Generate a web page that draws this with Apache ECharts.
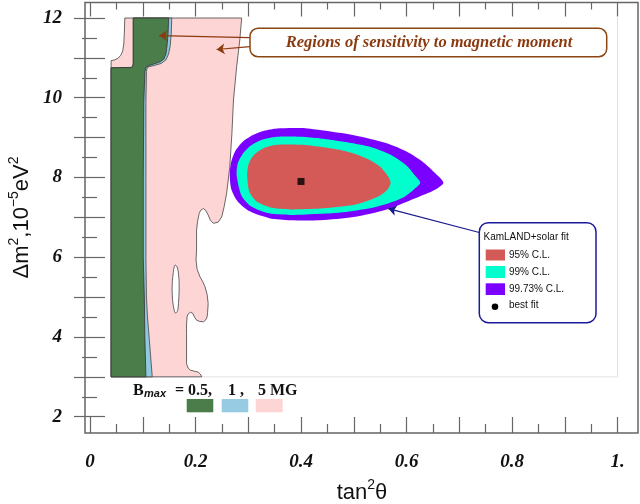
<!DOCTYPE html>
<html lang="en">
<head>
<meta charset="UTF-8">
<title>KamLAND + solar fit vs magnetic moment sensitivity</title>
<script src="https://cdn.jsdelivr.net/npm/echarts@6/dist/echarts.min.js"></script>
<style>
  html, body { margin: 0; padding: 0; background: #fff; }
  #main { width: 640px; height: 504px; }
</style>
</head>
<body>
<div id="main"></div>
<script>
// tick labels
var xLabels = [0, 0.2, 0.4, 0.6, 0.8, 1.0];
var yLabels = [2, 4, 6, 8, 10, 12];

// sensitivity regions (tan^2 theta, dm^2 in 1e-5 eV^2)
var pink5MG = [[0.04,3],[0.04,10.93],[0.047,10.95],[0.053,10.99],[0.058,11.06],[0.062,11.17],
  [0.064,11.35],[0.065,11.6],[0.066,12],
  [0.2875,12],[0.284,11.45],[0.278,10.78],[0.272,9.94],[0.269,9.1],[0.265,8.27],[0.259,7.6],
  [0.254,7.25],[0.2497,7.01],[0.243,6.88],[0.234,6.85],[0.228,6.93],[0.224,7.06],[0.219,7.18],
  [0.215,7.22],[0.21,7.18],[0.207,7.1],[0.204,6.9],[0.202,6.68],[0.202,6.18],
  [0.201,5.93],[0.203,5.7],[0.2085,5.51],[0.214,5.38],[0.218,5.26],[0.222,5.07],[0.224,4.84],
  [0.223,4.62],[0.222,4.5],[0.219,4.42],[0.215,4.38],[0.208,4.39],[0.202,4.42],[0.198,4.5],
  [0.195,4.59],[0.191,4.62],[0.188,4.6],[0.185,4.55],[0.184,4.5],[0.183,4.3],[0.183,4.09],
  [0.183,3.33],[0.186,3.22],[0.19,3.17],[0.198,3.14],[0.205,3.12],[0.209,3.07],[0.212,3]];
var pinkHole = [[0.161,5.8],[0.158,5.62],[0.156,5.35],[0.156,5.05],[0.158,4.78],[0.162,4.6],
  [0.166,4.66],[0.168,4.9],[0.169,5.25],[0.168,5.55],[0.165,5.76]];
var blue1MG = [[0.04,3],[0.04,10.75],[0.078,10.76],[0.081,10.79],[0.082,10.86],[0.082,12],
  [0.155,12],[0.154,11.6],[0.152,11.3],[0.149,11.1],[0.144,10.95],[0.135,10.86],[0.122,10.81],
  [0.112,10.78],[0.108,10.74],[0.107,10.66],[0.106,9.9],[0.106,8],[0.106,6],[0.107,5],
  [0.109,4.5],[0.112,4.0],[0.115,3.5],[0.118,3]];
var green05MG = [[0.04,3],[0.04,10.75],[0.078,10.76],[0.081,10.79],[0.082,10.86],[0.082,12],
  [0.149,12],[0.148,11.6],[0.146,11.3],[0.144,11.1],[0.14,10.97],[0.133,10.9],[0.122,10.85],
  [0.112,10.81],[0.106,10.76],[0.104,10.65],[0.102,9.9],[0.101,8],[0.101,6],[0.103,5],
  [0.104,4],[0.106,3]];

// KamLAND + solar fit contours
var cl9973 = [[0.265,8.05],[0.267,8.35],[0.275,8.65],[0.29,8.9],[0.31,9.07],[0.33,9.17],[0.354,9.23],
  [0.4,9.24],[0.436,9.19],[0.5,9.06],[0.5625,8.86],[0.6,8.65],[0.63,8.4],[0.655,8.1],[0.67,7.87],
  [0.655,7.7],[0.626,7.53],[0.5625,7.2],[0.4995,7.01],[0.436,6.93],[0.38,6.93],[0.34,6.98],
  [0.303,7.15],[0.28,7.4],[0.268,7.7]];
var cl99 = [[0.278,8.05],[0.28,8.35],[0.29,8.6],[0.305,8.8],[0.325,8.94],[0.354,9.02],[0.4,9.02],
  [0.436,8.98],[0.49,8.88],[0.531,8.77],[0.57,8.57],[0.6,8.3],[0.616,8.05],[0.626,7.87],
  [0.614,7.7],[0.594,7.5],[0.56,7.33],[0.531,7.23],[0.48,7.13],[0.436,7.09],[0.38,7.06],
  [0.34,7.1],[0.305,7.28],[0.287,7.55]];
var cl95 = [[0.298,8.05],[0.301,8.35],[0.312,8.58],[0.33,8.74],[0.354,8.82],[0.4,8.82],[0.436,8.77],
  [0.47,8.7],[0.5,8.6],[0.53,8.44],[0.55,8.27],[0.564,8.05],[0.57,7.87],[0.564,7.7],[0.55,7.55],
  [0.525,7.41],[0.499,7.31],[0.436,7.22],[0.38,7.2],[0.345,7.24],[0.316,7.4],[0.302,7.65]];
var bestFit = [[0.4, 7.9]];

// faint plot-region border and annotation arrows
var plotBox = [[0.04,3],[1,3],[1,12]];
var brownArrows = [[[0.303,11.51],[0.131,11.56]], [[0.303,11.28],[0.240,11.21]]];
var navyArrow = [[0.738,6.62],[0.5655,7.22]];

var chart = echarts.init(document.getElementById('main'));

function polySeries(pts, fill, stroke, smooth, z) {
  return {
    type: 'custom',
    coordinateSystem: 'cartesian2d',
    z: z,
    silent: true,
    data: pts,
    renderItem: function (params, api) {
      if (params.dataIndex !== 0) return;
      var p = pts.map(function (d) { return api.coord(d); });
      return {
        type: 'polygon',
        shape: { points: p, smooth: smooth },
        style: { fill: fill, stroke: stroke, lineWidth: stroke ? 0.8 : 0 }
      };
    }
  };
}

function onList(list, v) {
  return list.some(function (t) { return Math.abs(t - v) < 1e-6; });
}

var tickFont = { fontFamily: 'Liberation Serif', fontWeight: 'bold', fontStyle: 'italic', fontSize: 19, color: '#111' };
var tickLine = { color: '#666', width: 1.2 };
var nameRich = {
  n: { fontSize: 22, fontFamily: 'Liberation Sans', fill: '#111', lineHeight: 26, verticalAlign: 'bottom' },
  s: { fontSize: 14, fontFamily: 'Liberation Sans', fill: '#111', lineHeight: 26, verticalAlign: 'top' }
};

var option = {
  animation: false,
  backgroundColor: '#fff',
  grid: { left: 90, right: 22.5, top: 18, bottom: 87.3, outerBoundsMode: 'none' },
  xAxis: [{
    type: 'value', min: 0, max: 1, interval: 0.1, position: 'bottom', offset: 16.3,
    axisLine: { show: false }, splitLine: { show: false },
    axisTick: { inside: true, length: 16, lineStyle: tickLine },
    minorTick: { show: true, splitNumber: 2, length: 9, lineStyle: tickLine },
    axisLabel: Object.assign({ margin: 20, formatter: function (v) {
      if (!onList(xLabels, v)) return '';
      return Math.abs(v - 1) < 1e-6 ? '1.' : String(+v.toFixed(1));
    } }, tickFont)
  }, {
    type: 'value', min: 0, max: 1, interval: 0.1, position: 'top', offset: 15.5,
    axisLine: { show: false }, splitLine: { show: false }, axisLabel: { show: false },
    axisTick: { inside: true, length: 14, lineStyle: tickLine },
    minorTick: { show: true, splitNumber: 2, length: 7, lineStyle: tickLine }
  }],
  yAxis: [{
    type: 'value', min: 2, max: 12, interval: 1, position: 'left', offset: 5,
    axisLine: { show: false }, splitLine: { show: false },
    axisTick: { inside: true, length: 15, lineStyle: tickLine },
    minorTick: { show: true, splitNumber: 2, length: 7, lineStyle: tickLine },
    axisLabel: Object.assign({ margin: 23, formatter: function (v) {
      return onList(yLabels, v) ? String(v) : '';
    } }, tickFont)
  }, {
    type: 'value', min: 2, max: 12, interval: 1, position: 'right', offset: 20.5,
    axisLine: { show: false }, splitLine: { show: false }, axisLabel: { show: false },
    axisTick: { inside: true, length: 16, lineStyle: tickLine },
    minorTick: { show: true, splitNumber: 2, length: 8, lineStyle: tickLine }
  }],
  series: [
    {
      type: 'line', data: plotBox, symbol: 'none', silent: true, z: 1,
      lineStyle: { color: '#e2e2e2', width: 1 }
    },
    polySeries(pink5MG, '#fdd5d5', '#444', 0, 2),
    polySeries(pinkHole, '#ffffff', '#444', 0.4, 3),
    polySeries(blue1MG, '#92c9e2', '#444', 0, 4),
    polySeries(green05MG, '#4a7d4a', '#333', 0, 5),
    polySeries(cl9973, '#7a00ff', null, 0.25, 6),
    polySeries(cl99, '#00ffcc', null, 0.25, 7),
    polySeries(cl95, '#d35a56', null, 0.25, 8),
    {
      type: 'scatter', data: bestFit, symbol: 'rect', symbolSize: 7, z: 9, silent: true,
      itemStyle: { color: '#000' }
    },
    {
      type: 'lines', coordinateSystem: 'cartesian2d', z: 10, silent: true,
      symbol: ['none', 'arrow'], symbolSize: 8,
      lineStyle: { color: '#8b3a0f', width: 1.2, opacity: 1 },
      data: brownArrows.map(function (c) { return { coords: c }; })
    },
    {
      type: 'lines', coordinateSystem: 'cartesian2d', z: 10, silent: true,
      symbol: ['none', 'arrow'], symbolSize: 8,
      lineStyle: { color: '#1a1a8c', width: 1.2, opacity: 1 },
      data: [{ coords: navyArrow }]
    }
  ],
  graphic: [
    // outer frame
    { type: 'rect', z: 100, silent: true, shape: { x: 85, y: 2.5, width: 553, height: 430.5 },
      style: { fill: 'none', stroke: '#666', lineWidth: 1.5 } },
    // axis names
    { type: 'text', z: 100, x: 20, y: 217.5, rotation: Math.PI / 2,
      style: { text: '{n|\u0394m}{s|2}{n|,10}{s|\u22125}{n|eV}{s|2}', align: 'center', verticalAlign: 'middle',
        textAlign: 'center', textVerticalAlign: 'middle', rich: nameRich } },
    { type: 'text', z: 100, x: 362, y: 491,
      style: { text: '{n|tan}{s|2}{n|\u03b8}', align: 'center', verticalAlign: 'middle',
        textAlign: 'center', textVerticalAlign: 'middle', rich: nameRich } },
    // annotation box
    { type: 'rect', z: 100, shape: { x: 250, y: 28.3, width: 356.7, height: 28.4, r: 8 },
      style: { fill: '#fff', stroke: '#8b4513', lineWidth: 1.5 } },
    { type: 'text', z: 101, x: 429, y: 43,
      style: { text: 'Regions of sensitivity to magnetic moment', fill: '#8b3a0f',
        font: 'italic bold 16.5px "Liberation Serif"', align: 'center', verticalAlign: 'middle',
        textAlign: 'center', textVerticalAlign: 'middle' } },
    // B_max legend
    { type: 'text', z: 100, x: 133, y: 390.5,
      style: { text: 'B', fill: '#111', font: 'bold 16px "Liberation Serif"', verticalAlign: 'middle', textVerticalAlign: 'middle' } },
    { type: 'text', z: 100, x: 144, y: 394,
      style: { text: 'max', fill: '#111', font: 'italic bold 11px "Liberation Sans"', verticalAlign: 'middle', textVerticalAlign: 'middle' } },
    { type: 'text', z: 100, x: 175, y: 390.5,
      style: { text: '= 0.5,', fill: '#111', font: 'bold 16px "Liberation Serif"', verticalAlign: 'middle', textVerticalAlign: 'middle' } },
    { type: 'text', z: 100, x: 228, y: 390.5,
      style: { text: '1 ,', fill: '#111', font: 'bold 16px "Liberation Serif"', verticalAlign: 'middle', textVerticalAlign: 'middle' } },
    { type: 'text', z: 100, x: 258, y: 390.5,
      style: { text: '5 MG', fill: '#111', font: 'bold 16px "Liberation Serif"', verticalAlign: 'middle', textVerticalAlign: 'middle' } },
    { type: 'rect', z: 100, shape: { x: 186.7, y: 399, width: 26.6, height: 13.3 }, style: { fill: '#4a7d4a' } },
    { type: 'rect', z: 100, shape: { x: 221.7, y: 399, width: 26.6, height: 13.3 }, style: { fill: '#96cbe3' } },
    { type: 'rect', z: 100, shape: { x: 255.7, y: 399, width: 27, height: 13.3 }, style: { fill: '#fdd5d5' } },
    // KamLAND legend box
    { type: 'rect', z: 100, shape: { x: 479.3, y: 222.7, width: 116.7, height: 100, r: 9 },
      style: { fill: '#fff', stroke: '#1a1a9a', lineWidth: 1.5 } },
    { type: 'text', z: 101, x: 483.5, y: 237.5,
      style: { text: 'KamLAND+solar fit', fill: '#111', font: '10px "Liberation Sans"', verticalAlign: 'middle', textVerticalAlign: 'middle' } },
    { type: 'rect', z: 101, shape: { x: 485.7, y: 249.5, width: 19.3, height: 11 }, style: { fill: '#d35a56' } },
    { type: 'text', z: 101, x: 509, y: 255,
      style: { text: '95% C.L.', fill: '#111', font: '10px "Liberation Sans"', verticalAlign: 'middle', textVerticalAlign: 'middle' } },
    { type: 'rect', z: 101, shape: { x: 485.7, y: 266, width: 19.3, height: 12 }, style: { fill: '#00ffcc' } },
    { type: 'text', z: 101, x: 509, y: 272,
      style: { text: '99% C.L.', fill: '#111', font: '10px "Liberation Sans"', verticalAlign: 'middle', textVerticalAlign: 'middle' } },
    { type: 'rect', z: 101, shape: { x: 485.7, y: 283.3, width: 19.3, height: 11.7 }, style: { fill: '#7a00ff' } },
    { type: 'text', z: 101, x: 509, y: 289,
      style: { text: '99.73% C.L.', fill: '#111', font: '10px "Liberation Sans"', verticalAlign: 'middle', textVerticalAlign: 'middle' } },
    { type: 'circle', z: 101, shape: { cx: 495, cy: 306.7, r: 3.3 }, style: { fill: '#000' } },
    { type: 'text', z: 101, x: 509, y: 305,
      style: { text: 'best fit', fill: '#111', font: '10px "Liberation Sans"', verticalAlign: 'middle', textVerticalAlign: 'middle' } }
  ]
};

chart.setOption(option);
</script>
</body>
</html>
